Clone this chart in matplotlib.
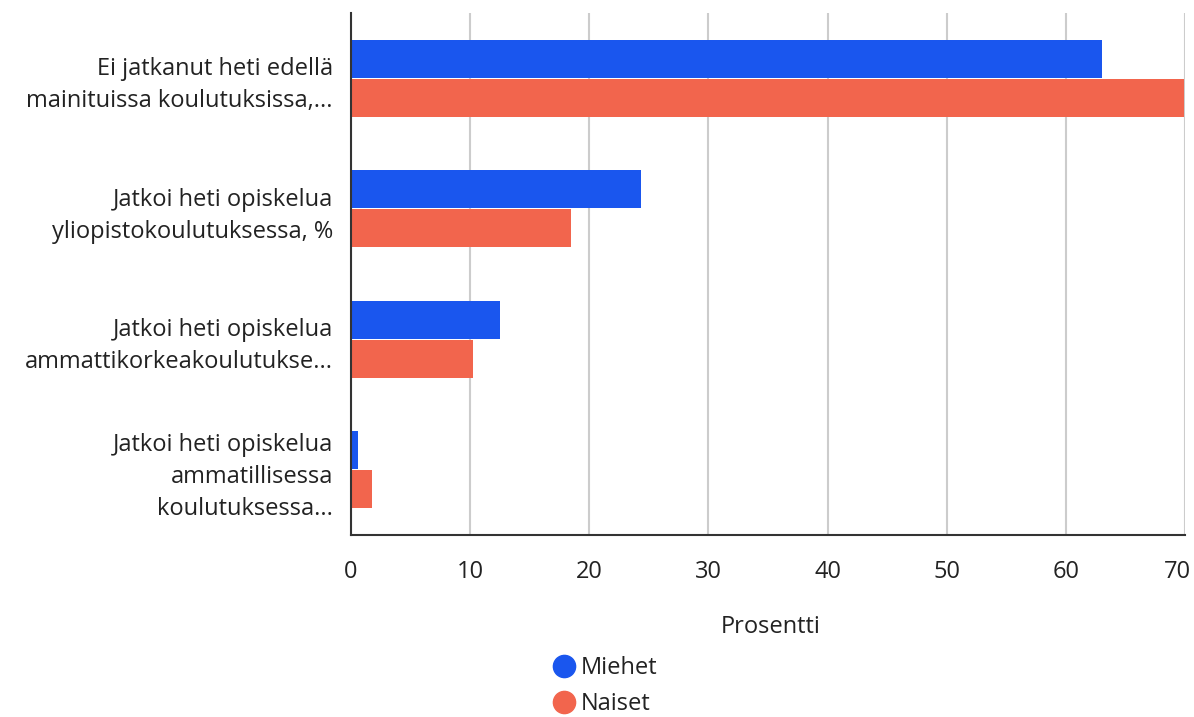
import matplotlib
matplotlib.use("Agg")
import matplotlib.pyplot as plt
import matplotlib.transforms as mtransforms
from matplotlib.lines import Line2D
import numpy as np

plt.rcParams['font.family'] = ['Open Sans', 'DejaVu Sans']

categories = [
    "Ei jatkanut heti edellä\nmainituissa koulutuksissa,...",
    "Jatkoi heti opiskelua\nyliopistokoulutuksessa, %",
    "Jatkoi heti opiskelua\nammattikorkeakoulutukse...",
    "Jatkoi heti opiskelua\nammatillisessa\nkoulutuksessa...",
]
miehet = [63.0, 24.3, 12.5, 0.6]
naiset = [69.9, 18.5, 10.2, 1.8]
series_names = ["Miehet", "Naiset"]
xticks = [0, 10, 20, 30, 40, 50, 60, 70]
xlabel = "Prosentti"

blue = "#1a56ee"
red = "#f2654d"
fs = 17

fig = plt.figure(figsize=(11.94, 7.17), dpi=100)
ax = fig.add_axes([351/1194, 1-535/717, 834/1194, 522/717])

n = len(categories)
y = np.arange(n)
h = 0.29
ax.barh(y - h/2 - 0.005, miehet, height=h, color=blue, zorder=3)
ax.barh(y + h/2 + 0.005, naiset, height=h, color=red, zorder=3)

ax.set_ylim(n - 0.5, -0.5)
ax.set_xlim(0, 70)
ax.set_xticks(xticks)
ax.set_xticklabels([str(t) for t in xticks], fontsize=fs, color="#222222")
ax.set_yticks(y)
ax.set_yticklabels(categories, fontsize=fs, color="#222222", linespacing=1.45)
ax.tick_params(axis='both', length=0)
ax.tick_params(axis='y', pad=13)
ax.tick_params(axis='x', pad=18)
ax.grid(axis='x', color="#cccccc", linewidth=1.5, zorder=0)
for s in ['top', 'right']:
    ax.spines[s].set_visible(False)
ax.spines['left'].set_color("#333333")
ax.spines['bottom'].set_color("#333333")
ax.spines['left'].set_linewidth(1.5)
ax.spines['bottom'].set_linewidth(1.5)
ax.spines['left'].set_zorder(4)

# shift last tick label left so it stays inside the figure
last = ax.get_xticklabels()[-1]
last.set_transform(last.get_transform() + mtransforms.ScaledTranslation(-8/100, 0, fig.dpi_scale_trans))

fig.text(771/1194, 1-627/717, xlabel, fontsize=fs, color="#222222", ha='center', va='center')

handles = [Line2D([0], [0], marker='o', linestyle='', markersize=16, color=c) for c in (blue, red)]
fig.legend(handles, series_names, loc='center left', bbox_to_anchor=(538/1194, 1-686/717),
           frameon=False, fontsize=fs, handletextpad=0.1, labelspacing=0.5,
           handlelength=1.2, borderpad=0, labelcolor="#222222")

fig.savefig("out.png", dpi=100)
